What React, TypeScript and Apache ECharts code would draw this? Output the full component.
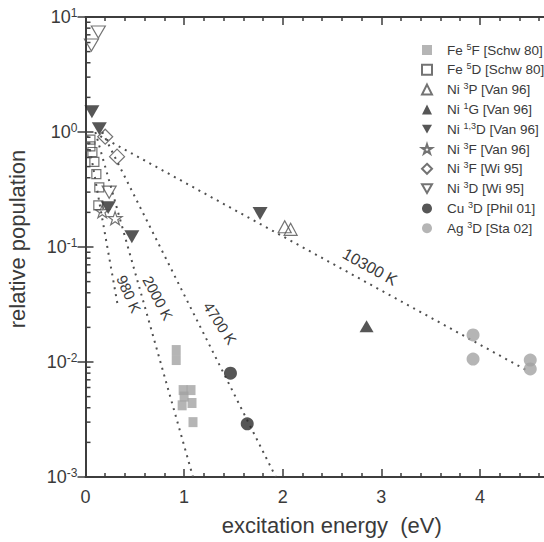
import React, { useEffect, useRef } from 'react';
import * as echarts from 'echarts';

// ---- axis ranges and tick labels ----
const ENERGY_MIN = 0;
const ENERGY_MAX = 4.7;
const POP_MIN = 0.001;
const POP_MAX = 10;
const minorFactors = [2, 3, 4, 5, 6, 7, 8, 9];
const decades = [-3, -2, -1, 0];

// ---- measured populations: [excitation energy (eV), relative population] ----
const fe5F: [number, number][] = [
  [0.92, 0.0127], [0.92, 0.0104], [0.99, 0.0057], [1.07, 0.0057],
  [1.0, 0.005], [0.98, 0.0042], [1.08, 0.0044], [1.09, 0.003],
];
const fe5D: [number, number][] = [
  [0.05, 0.86], [0.05, 0.75], [0.07, 0.67], [0.09, 0.55],
  [0.11, 0.43], [0.14, 0.33], [0.13, 0.23],
];
const ni3PVan: [number, number][] = [[2.02, 0.15], [2.08, 0.1425]];
const ni1GVan: [number, number][] = [[2.85, 0.0205]];
const ni13DVan: [number, number][] = [
  [0.065, 1.5], [0.14, 1.07], [0.23, 0.22], [0.47, 0.123], [1.77, 0.196],
];
const ni3FVan: [number, number][] = [[0.17, 0.205], [0.3, 0.178]];
const ni3FWi: [number, number][] = [[0.2, 0.91], [0.32, 0.61]];
const ni3DWi: [number, number][] = [[0.13, 7.4], [0.06, 5.7], [0.24, 0.3]];
const cu3D: [number, number][] = [[1.47, 0.008], [1.64, 0.0029]];
const ag3D: [number, number][] = [
  [3.93, 0.0172], [3.93, 0.0106], [4.51, 0.0104], [4.51, 0.0087],
];

// ---- Boltzmann fits (start and end of each dotted line) ----
const fit980: [number, number][] = [[0.02, 0.93], [0.33, 0.03]];
const fit2000: [number, number][] = [[0.1, 1.0], [1.09, 0.001]];
const fit4700: [number, number][] = [[0.17, 1.0], [1.93, 0.001]];
const fit10300: [number, number][] = [[0.15, 0.92], [4.47, 0.0085]];

// temperature annotations, anchored in data units
const fitLabels = [
  { text: '980 K', e: 0.44, v: 0.039, angle: -66, size: 15 },
  { text: '2000 K', e: 0.735, v: 0.036, angle: -62, size: 15 },
  { text: '4700 K', e: 1.364, v: 0.0218, angle: -57, size: 15 },
  { text: '10300 K', e: 2.885, v: 0.067, angle: -29, size: 16 },
];

// legend entries: element, multiplicity superscript, term, reference
const legendText: Record<string, { el: string; sup: string; term: string; ref: string }> = {
  'Fe 5F [Schw 80]': { el: 'Fe', sup: '5', term: 'F', ref: '[Schw 80]' },
  'Fe 5D [Schw 80]': { el: 'Fe', sup: '5', term: 'D', ref: '[Schw 80]' },
  'Ni 3P [Van 96]': { el: 'Ni', sup: '3', term: 'P', ref: '[Van 96]' },
  'Ni 1G [Van 96]': { el: 'Ni', sup: '1', term: 'G', ref: '[Van 96]' },
  'Ni 1,3D [Van 96]': { el: 'Ni', sup: '1,3', term: 'D', ref: '[Van 96]' },
  'Ni 3F [Van 96]': { el: 'Ni', sup: '3', term: 'F', ref: '[Van 96]' },
  'Ni 3F [Wi 95]': { el: 'Ni', sup: '3', term: 'F', ref: '[Wi 95]' },
  'Ni 3D [Wi 95]': { el: 'Ni', sup: '3', term: 'D', ref: '[Wi 95]' },
  'Cu 3D [Phil 01]': { el: 'Cu', sup: '3', term: 'D', ref: '[Phil 01]' },
  'Ag 3D [Sta 02]': { el: 'Ag', sup: '3', term: 'D', ref: '[Sta 02]' },
};

const FONT = '"Liberation Sans", Arial, Helvetica, sans-serif';
const AXIS = '#3d3d3d';
const TEXT = '#3a3a3a';
const DARK = '#2c2c2c';
const GRAY = '#a3a3a3';
const OPEN = '#505050';

const DOWN_TRIANGLE = 'path://M0,0L10,0L5,8.66Z';
const STAR =
  'path://M50,0L61.8,35.3L98.9,35.3L68.8,57.1L80.3,92.4L50,70.6L19.7,92.4L31.2,57.1L1.1,35.3L38.2,35.3Z';

function filled(color: string) {
  return { color, borderWidth: 0 };
}
function open() {
  return { color: 'rgba(255,255,255,0)', borderColor: OPEN, borderWidth: 1.2 };
}

function scatter(name: string, data: [number, number][], symbol: string, size: number | number[], itemStyle: any) {
  return {
    name,
    type: 'scatter',
    data,
    symbol,
    symbolSize: size,
    symbolKeepAspect: symbol.startsWith('path://'),
    itemStyle,
    z: 3,
  };
}

function fitLine(data: [number, number][]) {
  return {
    type: 'line',
    data,
    symbol: 'none',
    silent: true,
    z: 2,
    lineStyle: { color: '#505050', width: 2, type: [2, 5] },
  };
}

function superscriptLabel(value: number) {
  const exp = Math.round(Math.log10(value));
  return `{b|10}{s|${exp}}`;
}

function buildOption() {
  const minorValues: number[] = [];
  decades.forEach((d) => minorFactors.forEach((k) => minorValues.push(k * Math.pow(10, d))));

  const xCommon = {
    type: 'value',
    min: ENERGY_MIN,
    max: ENERGY_MAX,
    interval: 1,
    axisLine: { show: true, lineStyle: { color: AXIS, width: 2 } },
    axisTick: { show: true, inside: true, length: 8, lineStyle: { color: AXIS, width: 1.5 } },
    minorTick: { show: true, splitNumber: 5, length: 4, lineStyle: { color: AXIS, width: 1.5 } },
    splitLine: { show: false },
  };
  const yCommon = {
    type: 'log',
    logBase: 10,
    min: POP_MIN,
    max: POP_MAX,
    axisLine: { show: true, lineStyle: { color: AXIS, width: 2 } },
    axisTick: { show: true, inside: true, length: 8, lineStyle: { color: AXIS, width: 1.5 } },
    splitLine: { show: false },
  };

  return {
    animation: false,
    backgroundColor: '#ffffff',
    grid: { left: 85.5, top: 17, right: -5, bottom: 65, containLabel: false, outerBoundsMode: 'none' },
    xAxis: [
      {
        ...xCommon,
        position: 'bottom',
        name: 'excitation energy  (eV)',
        nameLocation: 'middle',
        nameGap: 37,
        nameTextStyle: { fontFamily: FONT, fontSize: 22, color: TEXT, padding: [0, 0, 0, 29] },
        axisLabel: {
          show: true,
          margin: 11,
          fontFamily: FONT,
          fontSize: 18,
          color: TEXT,
          showMaxLabel: false,
          formatter: (v: number) => (Math.abs(v - Math.round(v)) < 1e-9 ? String(Math.round(v)) : ''),
        },
      },
      { ...xCommon, position: 'top', axisLabel: { show: false } },
    ],
    yAxis: [
      {
        ...yCommon,
        position: 'left',
        name: 'relative population',
        nameLocation: 'middle',
        nameGap: 57,
        nameTextStyle: { fontFamily: FONT, fontSize: 22, color: TEXT, padding: [0, 0, 0, 16] },
        axisLabel: {
          show: true,
          margin: 8,
          formatter: superscriptLabel,
          rich: {
            b: { fontFamily: FONT, fontSize: 18, color: TEXT, lineHeight: 20 },
            s: { fontFamily: FONT, fontSize: 12, color: TEXT, lineHeight: 12, verticalAlign: 'top' },
          },
        },
      },
      { ...yCommon, position: 'right', axisLabel: { show: false } },
    ],
    legend: {
      orient: 'vertical',
      left: 416,
      top: 37,
      itemWidth: 10,
      itemHeight: 10,
      itemGap: 4.8,
      data: Object.keys(legendText),
      formatter: (name: string) => {
        const t = legendText[name];
        return `{n|${t.el} }{s|${t.sup}}{n|${t.term} ${t.ref}}`;
      },
      textStyle: {
        padding: [0, 0, 0, 10],
        rich: {
          n: { fontFamily: FONT, fontSize: 13.5, lineHeight: 16, color: TEXT },
          s: { fontFamily: FONT, fontSize: 9, lineHeight: 10, color: TEXT, verticalAlign: 'top' },
        },
      },
    },
    series: [
      {
        type: 'custom',
        silent: true,
        clip: false,
        z: 1,
        data: minorValues.map((v) => [0, v]),
        renderItem: (_params: any, api: any) => {
          const v = api.value(1);
          const l = api.coord([ENERGY_MIN, v]);
          const r = api.coord([ENERGY_MAX, v]);
          const style = { stroke: AXIS, lineWidth: 1.5 };
          return {
            type: 'group',
            children: [
              { type: 'line', shape: { x1: l[0], y1: l[1], x2: l[0] + 5, y2: l[1] }, style },
              { type: 'line', shape: { x1: r[0] - 5, y1: r[1], x2: r[0], y2: r[1] }, style },
            ],
          };
        },
      },
      fitLine(fit980),
      fitLine(fit2000),
      fitLine(fit4700),
      fitLine(fit10300),
      scatter('Fe 5F [Schw 80]', fe5F, 'rect', [9, 10], filled(GRAY)),
      scatter('Fe 5D [Schw 80]', fe5D, 'rect', 9, open()),
      scatter('Ni 3P [Van 96]', ni3PVan, 'triangle', [13, 12], open()),
      scatter('Ni 1G [Van 96]', ni1GVan, 'triangle', [14, 12], filled(DARK)),
      scatter('Ni 1,3D [Van 96]', ni13DVan, DOWN_TRIANGLE, 15, filled(DARK)),
      scatter('Ni 3F [Van 96]', ni3FVan, STAR, 14, open()),
      scatter('Ni 3F [Wi 95]', ni3FWi, 'diamond', [15, 15], open()),
      scatter('Ni 3D [Wi 95]', ni3DWi, DOWN_TRIANGLE, 14, open()),
      scatter('Cu 3D [Phil 01]', cu3D, 'circle', 13, filled(DARK)),
      scatter('Ag 3D [Sta 02]', ag3D, 'circle', 13, filled(GRAY)),
    ],
  };
}

export default function App() {
  const ref = useRef<HTMLDivElement>(null);

  useEffect(() => {
    if (!ref.current) return;
    const chart = echarts.init(ref.current, null, { renderer: 'svg' });
    chart.setOption(buildOption() as any);

    const graphic = fitLabels.map((l) => {
      const p = chart.convertToPixel({ xAxisIndex: 0, yAxisIndex: 0 }, [l.e, l.v]) as number[];
      return {
        type: 'text',
        x: p[0],
        y: p[1],
        rotation: (l.angle * Math.PI) / 180,
        silent: true,
        style: {
          text: l.text,
          fill: TEXT,
          fontFamily: FONT,
          fontSize: l.size,
          align: 'center',
          verticalAlign: 'middle',
          textAlign: 'center',
          textVerticalAlign: 'middle',
        },
      };
    });
    chart.setOption({ graphic } as any);

    return () => chart.dispose();
  }, []);

  return (
    <div
      ref={ref}
      style={{ position: 'fixed', left: 0, top: 0, width: 544, height: 542, background: '#fff' }}
    />
  );
}
